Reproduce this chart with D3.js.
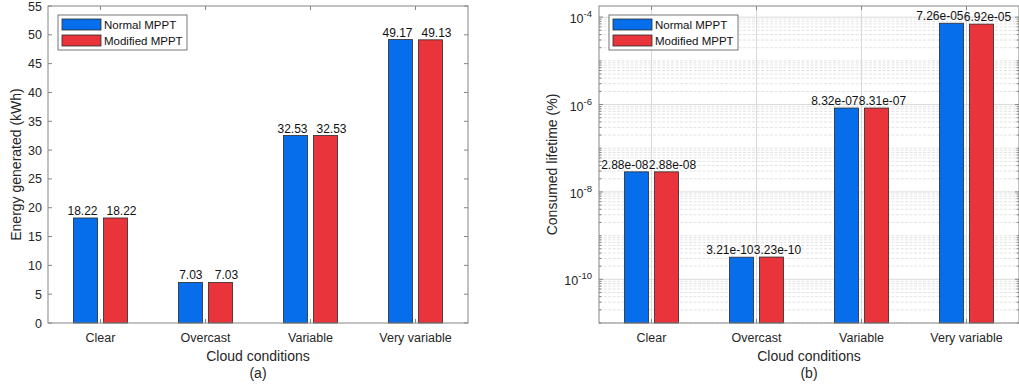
<!DOCTYPE html>
<html>
<head>
<meta charset="utf-8">
<script src="https://cdn.jsdelivr.net/npm/d3@7"></script>
<style>
  body { margin: 0; background: #fff; }
  svg { font-family: "Liberation Sans", Arial, sans-serif; }
</style>
</head>
<body>
<div id="chart"></div>
<script>
// data
const categories = ["Clear", "Overcast", "Variable", "Very variable"];
const seriesNames = ["Normal MPPT", "Modified MPPT"];
const seriesColors = ["#066eeb", "#e8343a"];

const energyNormal = [18.22, 7.03, 32.53, 49.17];
const energyModified = [18.22, 7.03, 32.53, 49.13];
const energyTicks = [0, 5, 10, 15, 20, 25, 30, 35, 40, 45, 50, 55];

const lifeNormal = [2.88e-8, 3.21e-10, 8.32e-7, 7.26e-5];
const lifeModified = [2.88e-8, 3.23e-10, 8.31e-7, 6.92e-5];
const lifeTickExps = [-10, -8, -6, -4];

const W = 1019, H = 389;
const textColor = "#262626", axisColor = "#858585";

const svg = d3.select("#chart").append("svg")
    .attr("width", W).attr("height", H);

// format like matlab's %.2e
function expFormat(v) {
    const s = v.toExponential(2);
    const parts = s.split("e");
    const sign = parts[1][0];
    let e = parts[1].slice(1);
    if (e.length < 2) e = "0" + e;
    return parts[0] + "e" + sign + e;
}

function drawPanel(opt) {
    const g = svg.append("g");
    const x = d3.scaleLinear().domain([0.5, 4.5]).range([opt.left, opt.right]);
    const y = opt.y;
    const top = opt.top, bottom = opt.bottom;
    const barW = x(1.23) - x(1);
    const off = x(1.143) - x(1);

    // grid (log panel only)
    if (opt.log) {
        const grid = g.append("g");
        for (let e = -11; e <= -4; e++) {
            for (let m = 1; m <= 9; m++) {
                const v = m * Math.pow(10, e);
                const yy = y(v);
                if (yy < top || yy > bottom) continue;
                const major = m === 1 && lifeTickExps.includes(e);
                grid.append("line")
                    .attr("x1", opt.left).attr("x2", opt.right)
                    .attr("y1", yy).attr("y2", yy)
                    .attr("stroke", major ? "#dadada" : "#e3e3e3")
                    .attr("stroke-width", 1)
                    .attr("stroke-dasharray", major ? null : "3,1.5");
                // minor ticks on both sides
                const tl = major ? 4 : 2.5;
                grid.append("line").attr("x1", opt.left).attr("x2", opt.left + tl)
                    .attr("y1", yy).attr("y2", yy).attr("stroke", axisColor);
                grid.append("line").attr("x1", opt.right).attr("x2", opt.right - tl)
                    .attr("y1", yy).attr("y2", yy).attr("stroke", axisColor);
            }
        }
        categories.forEach((c, i) => {
            grid.append("line")
                .attr("x1", x(i + 1)).attr("x2", x(i + 1))
                .attr("y1", top).attr("y2", bottom)
                .attr("stroke", "#dadada");
        });
    }

    // bars
    const base = opt.log ? bottom : y(0);
    [opt.a, opt.b].forEach((vals, s) => {
        g.append("g").selectAll("rect")
            .data(vals)
            .join("rect")
            .attr("x", (d, i) => x(i + 1) + (s === 0 ? -off : off) - barW / 2)
            .attr("y", d => y(d))
            .attr("width", barW)
            .attr("height", d => base - y(d))
            .attr("fill", seriesColors[s])
            .attr("stroke", "#2b2b2b")
            .attr("stroke-width", 0.8);
    });

    // value labels: blue ones end at their bar's right edge,
    // red ones sit a little right of their bar's centre (as in the original)
    g.append("g").selectAll("text")
        .data(opt.a)
        .join("text")
        .attr("x", (d, i) => x(i + 1) - off + barW / 2)
        .attr("y", d => y(d) - 3)
        .attr("text-anchor", "end")
        .attr("font-size", 12)
        .attr("fill", "#111")
        .text(d => opt.fmt(d));
    g.append("g").selectAll("text")
        .data(opt.b)
        .join("text")
        .attr("x", (d, i) => x(i + 1) + off + 6)
        .attr("y", d => y(d) - 3)
        .attr("text-anchor", "middle")
        .attr("font-size", 12)
        .attr("fill", "#111")
        .text(d => opt.fmt(d));

    // box
    g.append("rect")
        .attr("x", opt.left).attr("y", top)
        .attr("width", opt.right - opt.left).attr("height", bottom - top)
        .attr("fill", "none").attr("stroke", axisColor).attr("stroke-width", 1);

    // x ticks, top and bottom, pointing in
    categories.forEach((c, i) => {
        const xx = x(i + 1);
        g.append("line").attr("x1", xx).attr("x2", xx).attr("y1", bottom).attr("y2", bottom - 4).attr("stroke", axisColor);
        g.append("line").attr("x1", xx).attr("x2", xx).attr("y1", top).attr("y2", top + 4).attr("stroke", axisColor);
        g.append("text")
            .attr("x", xx).attr("y", 342)
            .attr("text-anchor", "middle")
            .attr("font-size", 12.5)
            .attr("fill", textColor)
            .text(c);
    });

    // y ticks
    if (!opt.log) {
        energyTicks.forEach(t => {
            const yy = y(t);
            g.append("line").attr("x1", opt.left).attr("x2", opt.left + 4).attr("y1", yy).attr("y2", yy).attr("stroke", axisColor);
            g.append("line").attr("x1", opt.right).attr("x2", opt.right - 4).attr("y1", yy).attr("y2", yy).attr("stroke", axisColor);
            g.append("text")
                .attr("x", opt.left - 6).attr("y", yy + 4.5)
                .attr("text-anchor", "end")
                .attr("font-size", 12.5)
                .attr("fill", textColor)
                .text(t);
        });
    } else {
        lifeTickExps.forEach(e => {
            const yy = y(Math.pow(10, e));
            const t = g.append("text")
                .attr("x", opt.left - 7).attr("y", yy + 6)
                .attr("text-anchor", "end")
                .attr("font-size", 12.5)
                .attr("fill", textColor);
            t.append("tspan").text("10");
            t.append("tspan").attr("dy", -6).attr("font-size", 9.5).text(e);
        });
    }

    // axis labels
    g.append("text")
        .attr("transform", `translate(${opt.ylabX},${(top + bottom) / 2}) rotate(-90)`)
        .attr("text-anchor", "middle")
        .attr("font-size", 14)
        .attr("fill", textColor)
        .text(opt.ylabel);
    g.append("text")
        .attr("x", (opt.left + opt.right) / 2).attr("y", 361)
        .attr("text-anchor", "middle")
        .attr("font-size", 14)
        .attr("fill", textColor)
        .text("Cloud conditions");
    g.append("text")
        .attr("x", (opt.left + opt.right) / 2).attr("y", 378)
        .attr("text-anchor", "middle")
        .attr("font-size", 14)
        .attr("fill", textColor)
        .text(opt.caption);

    // legend
    const lg = g.append("g").attr("transform", `translate(${opt.left + 10},15)`);
    lg.append("rect").attr("x", 0).attr("y", 0).attr("width", 129).attr("height", 35)
        .attr("fill", "#fff").attr("stroke", "#555").attr("stroke-width", 0.8);
    seriesNames.forEach((n, i) => {
        lg.append("rect")
            .attr("x", 4).attr("y", 4 + i * 16)
            .attr("width", 39).attr("height", 11)
            .attr("fill", seriesColors[i]).attr("stroke", "#2b2b2b").attr("stroke-width", 0.8);
        lg.append("text")
            .attr("x", 46).attr("y", 14 + i * 16)
            .attr("font-size", 11.5)
            .attr("fill", "#111")
            .text(n);
    });
}

// (a) energy
drawPanel({
    left: 48, right: 468, top: 6, bottom: 323,
    y: d3.scaleLinear().domain([0, 55]).range([323, 6]),
    log: false,
    a: energyNormal, b: energyModified,
    fmt: d => d.toFixed(2),
    ylabel: "Energy generated (kWh)", ylabX: 21,
    caption: "(a)"
});

// (b) consumed lifetime, log scale
drawPanel({
    left: 599, right: 1019, top: 6, bottom: 323,
    y: d3.scaleLog().domain([1e-11, 1.8e-4]).range([323, 6]),
    log: true,
    a: lifeNormal, b: lifeModified,
    fmt: expFormat,
    ylabel: "Consumed lifetime (%)", ylabX: 557,
    caption: "(b)"
});
</script>
</body>
</html>
